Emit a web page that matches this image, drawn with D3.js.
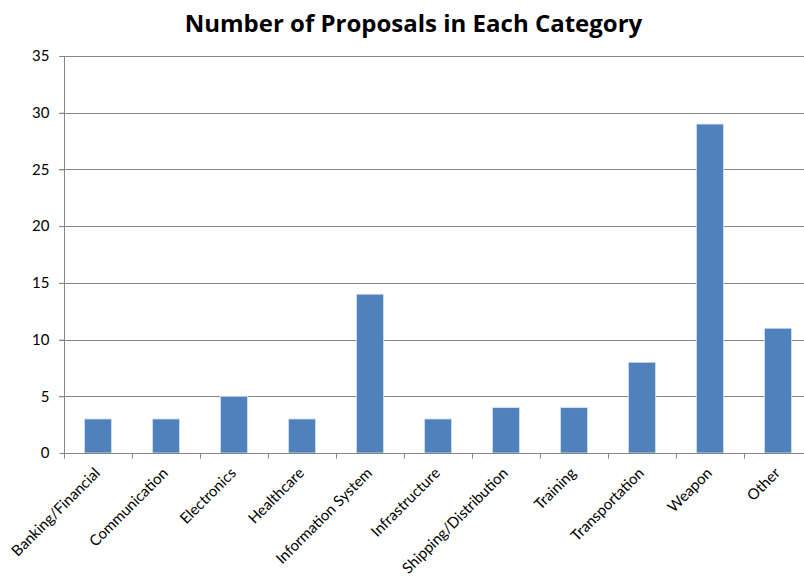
<!DOCTYPE html>
<html>
<head>
<meta charset="utf-8">
<script src="https://cdn.jsdelivr.net/npm/d3@7"></script>
<style>
  html, body { margin: 0; padding: 0; background: #fff; }
  svg { display: block; }
</style>
</head>
<body>
<svg id="chart" width="804" height="580"></svg>
<script>
const categories = ["Banking/Financial", "Communication", "Electronics", "Healthcare",
  "Information System", "Infrastructure", "Shipping/Distribution", "Training",
  "Transportation", "Weapon", "Other"];
const proposals = [3, 3, 5, 3, 14, 3, 4, 4, 8, 29, 11];
const yTicks = [0, 5, 10, 15, 20, 25, 30, 35];

const svg = d3.select("#chart");
const font = "Lato, 'Open Sans', sans-serif";
const titleFont = "'Open Sans', Lato, sans-serif";
const plotLeft = 64, plotTop = 56, plotBottom = 453, bandW = 68;
const plotRight = plotLeft + bandW * categories.length;

const x = d3.scaleBand().domain(categories).range([plotLeft, plotRight]).paddingInner(0.6).paddingOuter(0.3);
const y = d3.scaleLinear().domain([0, 35]).range([plotBottom, plotTop]);

// title
svg.append("text")
  .attr("x", 413.5).attr("y", 32)
  .attr("text-anchor", "middle")
  .attr("font-family", titleFont).attr("font-weight", "bold").attr("font-size", 24)
  .attr("fill", "#000")
  .text("Number of Proposals in Each Category");

// gridlines
svg.append("g").selectAll("line").data(yTicks.filter(d => d > 0)).join("line")
  .attr("x1", plotLeft - 5).attr("x2", plotRight)
  .attr("y1", d => Math.round(y(d)) + 0.5).attr("y2", d => Math.round(y(d)) + 0.5)
  .attr("stroke", "#878787").attr("stroke-width", 1);

// y axis
const yAxis = svg.append("g")
  .attr("transform", `translate(${plotLeft + 0.5},0)`)
  .call(d3.axisLeft(y).tickValues(yTicks).tickSize(5).tickPadding(10));
yAxis.select(".domain").attr("stroke", "#878787").attr("d", `M0,${plotTop}V${plotBottom}`);
yAxis.selectAll(".tick line").attr("stroke", "#878787");
yAxis.selectAll("text").attr("font-family", font).attr("font-size", 15).attr("fill", "#000");

// bars
svg.append("g").selectAll("rect").data(proposals).join("rect")
  .attr("x", (d, i) => x(categories[i]))
  .attr("width", x.bandwidth())
  .attr("y", d => y(d))
  .attr("height", d => y(0) - y(d))
  .attr("fill", "#4F81BD")
  .attr("stroke", "#dbe4f0").attr("stroke-width", 0.8);

// x axis with ticks at band boundaries
const xb = svg.append("g").attr("transform", `translate(0,${plotBottom + 0.5})`);
xb.append("line").attr("x1", plotLeft).attr("x2", plotRight).attr("stroke", "#878787");
xb.selectAll("line.tk").data(d3.range(categories.length + 1)).join("line")
  .attr("class", "tk")
  .attr("x1", i => Math.round(plotLeft + i * bandW) + 0.5)
  .attr("x2", i => Math.round(plotLeft + i * bandW) + 0.5)
  .attr("y1", 0).attr("y2", 5).attr("stroke", "#878787");

// rotated category labels
svg.append("g").selectAll("text").data(categories).join("text")
  .attr("transform", d => `translate(${x(d) + x.bandwidth() / 2 + 3},${plotBottom + 21}) rotate(-45)`)
  .attr("text-anchor", "end")
  .attr("font-family", font).attr("font-size", 15).attr("fill", "#000")
  .text(d => d);
</script>
</body>
</html>
